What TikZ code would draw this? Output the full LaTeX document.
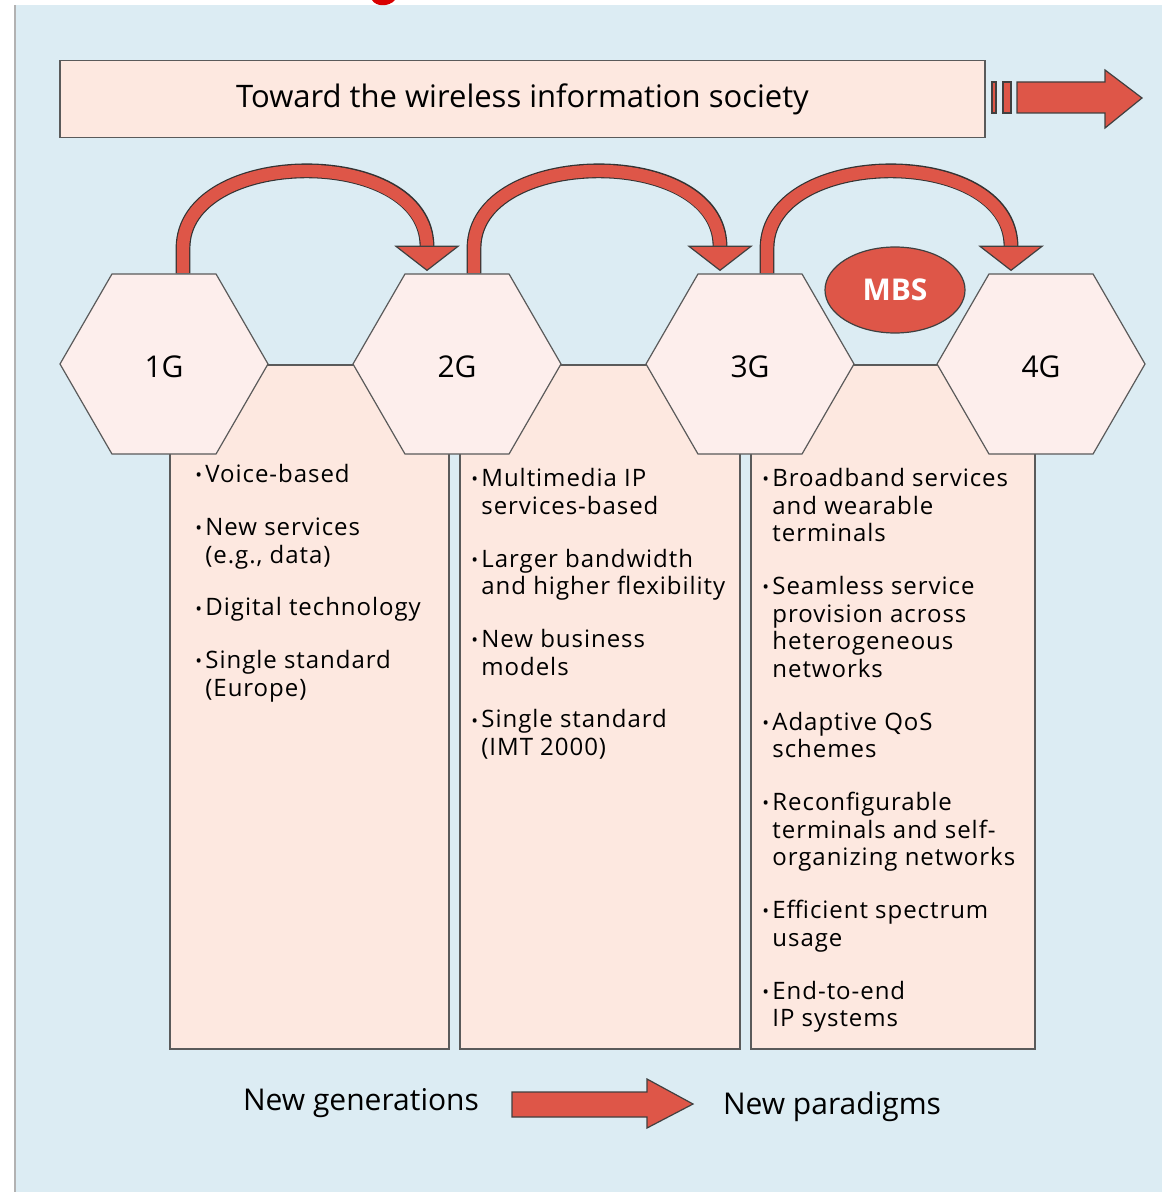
\documentclass[tikz,border=0pt]{standalone}
\usepackage{fontspec}
\setmainfont{Open Sans}
\newfontfamily\listfont[LetterSpace=4]{Open Sans}
\usetikzlibrary{shapes.geometric,calc}
\definecolor{sky}{HTML}{DCECF3}
\definecolor{salmon}{HTML}{FDE8E0}
\definecolor{hexfill}{HTML}{FDEEEC}
\definecolor{tomato}{HTML}{DE5648}
\definecolor{edge}{HTML}{5A5A5A}
\newcommand{\bul}{\makebox[5pt][l]{\raisebox{0.4pt}{\small\textbullet}}}
\newcommand{\ind}{\hspace*{5pt}}

\begin{document}
\begin{tikzpicture}[x=0.5pt,y=-0.5pt,
    hexa/.style={regular polygon,regular polygon sides=6,minimum size=104pt,inner sep=0pt,
      draw=edge,line width=0.6pt,fill=hexfill,text height=13.7pt,text depth=0pt,
      font={\fontsize{15}{18}\selectfont}},
    coltext/.style={anchor=north west,align=left,inner sep=0pt,font={\listfont\fontsize{12}{13.8}\selectfont}},
    column/.style={draw=edge,line width=0.9pt,fill=salmon},
    bandout/.style={line width=7.4pt,draw=black!80},
    band/.style={line width=6.2pt,draw=tomato},
    blockarrow/.style={fill=tomato,draw=black!75,line width=0.6pt,line join=miter}]
  \useasboundingbox (0,0) rectangle (1162,1192);
  \fill[sky] (15,5) rectangle (1162,1192);
  \draw[black!30,line width=1.4pt] (15,5) -- (15,1192);
  \fill[red!85!black] (372,0) .. controls (376,7) and (389,7) .. (395,0) -- cycle;

  % title bar
  \node[draw=edge,line width=0.7pt,fill=salmon,minimum width=462.5pt,minimum height=38.5pt,
    inner sep=0pt,font={\fontsize{15.5}{18}\selectfont}] (soc) at (522.5,99)
    {Toward the wireless information society};
  \filldraw[blockarrow] (992,82) rectangle (996,113);
  \filldraw[blockarrow] (1003,82) rectangle (1011,113);
  \filldraw[blockarrow] (1017,82) -- (1105,82) -- (1105,70) -- (1142,98) -- (1105,128)
    -- (1105,113) -- (1017,113) -- cycle;

  % columns
  \draw[column] (170,365) rectangle (449,1049);
  \draw[column] (460,365) rectangle (740,1049);
  \draw[column] (751,365) rectangle (1035,1049);

  % generations
  \node[hexa] (g1) at (164,364) {1G};
  \node[hexa] (g2) at (457,364) {2G};
  \node[hexa] (g3) at (750,364) {3G};
  \node[hexa] (g4) at (1041,364) {4G};

  \node[ellipse,minimum width=70pt,minimum height=43pt,fill=tomato,draw=black!75,
    line width=0.6pt,text=white,font={\fontsize{15}{18}\selectfont\bfseries}] (mbs) at (895,290) {MBS};

  % jumps between generations
  \foreach \a/\b/\o in {g1/g2/19,g2/g3/17,g3/g4/17} {
    \coordinate (s) at ($(\a.corner 1)!.5!(\a.corner 2)+(\o,0)$);
    \coordinate (t) at ($(\b.corner 1)!.5!(\b.corner 2)+(-30,-3)$);
    \draw[bandout] (s) -- ++(0,-25) .. controls ++(0,-102) and ($(t)+(0,-126)$) .. ($(t)+(0,-24)$);
    \draw[band] ($(s)+(0,-0.5)$) -- ++(0,-24.5) .. controls ++(0,-102) and ($(t)+(0,-126)$) .. ($(t)+(0,-23)$);
    \filldraw[blockarrow] ($(t)+(-31,-24)$) -- (t) -- ($(t)+(31,-24)$) -- cycle;
  }

  % features
  \node[coltext] (t1) at (195,464) {\bul Voice-based\\[12.6pt]
    \bul New services\\ \ind(e.g., data)\\[12.6pt]
    \bul Digital technology\\[12.6pt]
    \bul Single standard\\ \ind(Europe)};
  \node[coltext] (t2) at (471,468) {\bul Multimedia IP\\ \ind services-based\\[12.6pt]
    \bul Larger bandwidth\\ \ind and higher flexibility\\[12.6pt]
    \bul New business\\ \ind models\\[12.6pt]
    \bul Single standard\\ \ind(IMT 2000)};
  \node[coltext] (t3) at (762,468) {\bul Broadband services\\ \ind and wearable\\ \ind terminals\\[12.6pt]
    \bul Seamless service\\ \ind provision across\\ \ind heterogeneous\\ \ind networks\\[12.6pt]
    \bul Adaptive QoS\\ \ind schemes\\[12.6pt]
    \bul Reconfigurable\\ \ind terminals and self-\\ \ind organizing networks\\[12.6pt]
    \bul Efficient spectrum\\ \ind usage\\[12.6pt]
    \bul End-to-end\\ \ind IP systems};

  % bottom line
  \node[font={\fontsize{15}{18}\selectfont}] (gen) at (361,1103) {New generations};
  \node[font={\fontsize{15}{18}\selectfont}] (par) at (832,1107) {New paradigms};
  \filldraw[blockarrow] (512,1092) -- (647,1092) -- (647,1079) -- (693,1104) -- (647,1128)
    -- (647,1117) -- (512,1117) -- cycle;
\end{tikzpicture}
\end{document}
